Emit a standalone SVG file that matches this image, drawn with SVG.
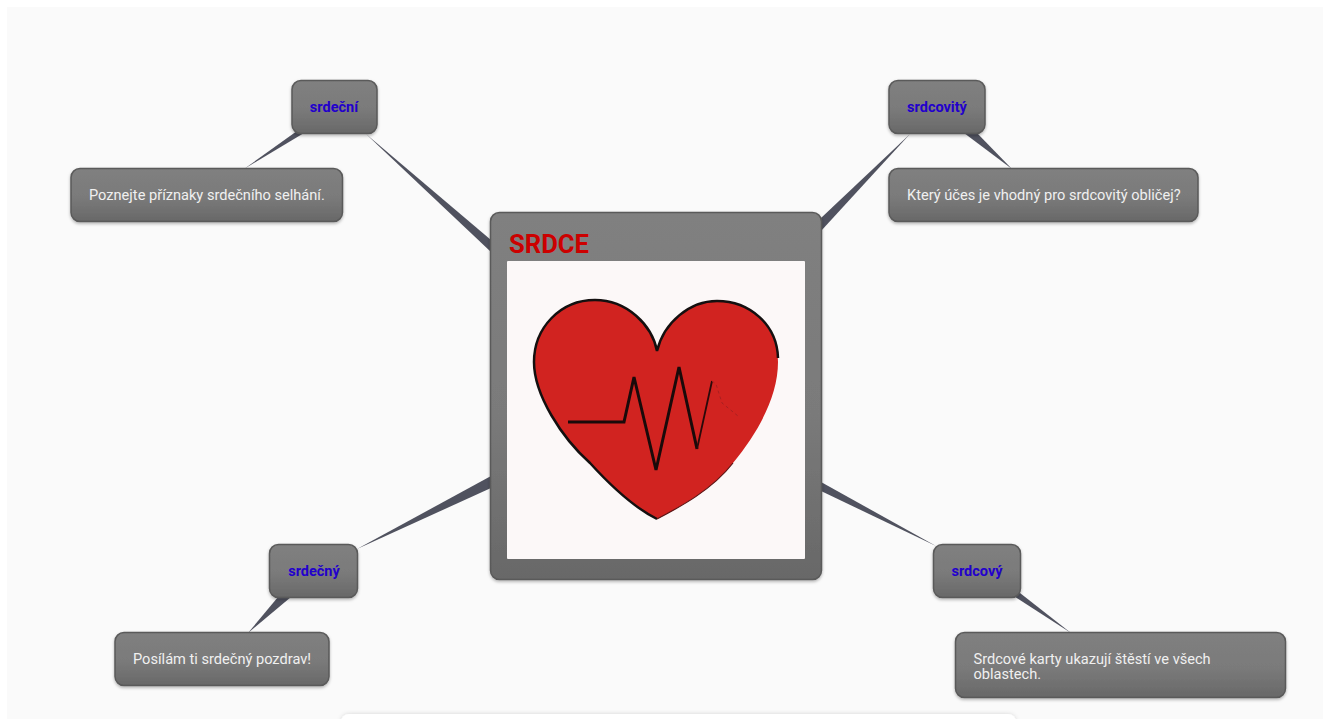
<svg xmlns="http://www.w3.org/2000/svg" width="1327" height="719" viewBox="0 0 1327 719">
<defs>
<linearGradient id="nodeFill" x1="0" y1="0" x2="0" y2="1"><stop offset="0" stop-color="#808080"/><stop offset="0.55" stop-color="#7a7a7a"/><stop offset="1" stop-color="#686868"/></linearGradient>
<filter id="sh" x="-10%" y="-20%" width="120%" height="145%"><feDropShadow dx="0" dy="1.5" stdDeviation="1.500" flood-color="#000" flood-opacity="0.3"/></filter>
<filter id="card" x="-2%" y="-50%" width="104%" height="200%"><feDropShadow dx="0" dy="0" stdDeviation="2" flood-color="#000" flood-opacity="0.15"/></filter>
</defs>
<style>
.box{fill:url(#nodeFill);stroke:#5a5a5a;stroke-width:1.5;filter:url(#sh)}
.word{font:bold 14.500px Roboto,"Liberation Sans",sans-serif;fill:#2200cc;text-anchor:middle}
.leaf{font:14.600px Roboto,"Liberation Sans",sans-serif;fill:#f0f0f0}
.conn{fill:#50525f}
</style>
<rect width="1327" height="719" fill="#ffffff"/>
<rect x="7" y="7" width="1316" height="712" fill="#fafafa"/>
<g id="bottom-card"><rect x="341" y="714" width="675" height="30" rx="8" fill="#ffffff" filter="url(#card)"/></g>
<g id="connectors">
<polygon class="conn" points="491,240 491,252 366,134"/>
<polygon class="conn" points="821,218 821,231 910,134"/>
<polygon class="conn" points="491,476 491,488 357,549"/>
<polygon class="conn" points="821,482 821,491 936,546"/>
<polygon class="conn" points="297,131 304,133 244,169"/>
<polygon class="conn" points="964,133 977,133 1012,169"/>
<polygon class="conn" points="278,597 291,597 248,633"/>
<polygon class="conn" points="1012,595 1020,593 1071,633"/>
</g>
<g id="center">
<rect class="box" x="490.500" y="212.500" width="331" height="367" rx="9"/>
<rect x="507" y="261" width="298" height="298" rx="1" fill="#fcf8f8"/>
<path d="M657 351C652 325 627 300 595 300C560 300 534 328 534 362C534 395 562 438 590 463C610 485 633 507 657 519C680 507 712 490 733 463C760 430 778 395 778 362C778 326 750 301 717 301C690 301 664 322 657 351Z" fill="#d12320"/>
<path d="M778 358C777 325 750 301 717 301C690 301 664 322 657 351C652 325 627 300 595 300C560 300 534 328 534 362C534 395 562 438 590 463C610 485 633 507 657 519" fill="none" stroke="#141010" stroke-width="2.500"/>
<path d="M657 519C680 507 712 490 733 463" fill="none" stroke="#5a1414" stroke-width="1.200"/>
<polyline points="568,422 624,422 634,377 656,470 679,367 697,449" fill="none" stroke="#1a0a0a" stroke-width="3"/>
<polyline points="697,449 712,381" fill="none" stroke="#2a0a0a" stroke-width="1.800"/>
<polyline points="712,381 716,384 722,403 738,416" fill="none" stroke="#a82020" stroke-width="1" stroke-dasharray="3 3"/>
<text x="509" y="253" font-family="Roboto, 'Liberation Sans', sans-serif" font-weight="700" font-size="25.600" fill="#cc0000">SRDCE</text>
</g>
<g id="srdecni"><rect class="box" x="292" y="80.500" width="85" height="53" rx="9"/><text class="word" x="334" y="112">srdeční</text></g>
<g id="srdcovity"><rect class="box" x="889" y="80.500" width="96" height="53" rx="9"/><text class="word" x="937" y="112">srdcovitý</text></g>
<g id="srdecny"><rect class="box" x="269.500" y="544.500" width="88" height="53" rx="9"/><text class="word" x="314" y="576">srdečný</text></g>
<g id="srdcovy"><rect class="box" x="933.500" y="544.500" width="87" height="53" rx="9"/><text class="word" x="977" y="576">srdcový</text></g>
<g id="leaf-srdecni"><rect class="box" x="71" y="168.500" width="271.500" height="53" rx="9"/><text class="leaf" x="89" y="200">Poznejte příznaky srdečního selhání.</text></g>
<g id="leaf-srdcovity"><rect class="box" x="889" y="168.500" width="309" height="53" rx="9"/><text class="leaf" x="907" y="200">Který účes je vhodný pro srdcovitý obličej?</text></g>
<g id="leaf-srdecny"><rect class="box" x="115" y="632.500" width="214" height="53" rx="9"/><text class="leaf" x="133" y="664">Posílám ti srdečný pozdrav!</text></g>
<g id="leaf-srdcovy"><rect class="box" x="955.500" y="632.500" width="330" height="65" rx="9"/><text class="leaf"><tspan x="973.500" y="663.500">Srdcové karty ukazují štěstí ve všech</tspan><tspan x="973.500" y="678.500">oblastech.</tspan></text></g>
</svg>
